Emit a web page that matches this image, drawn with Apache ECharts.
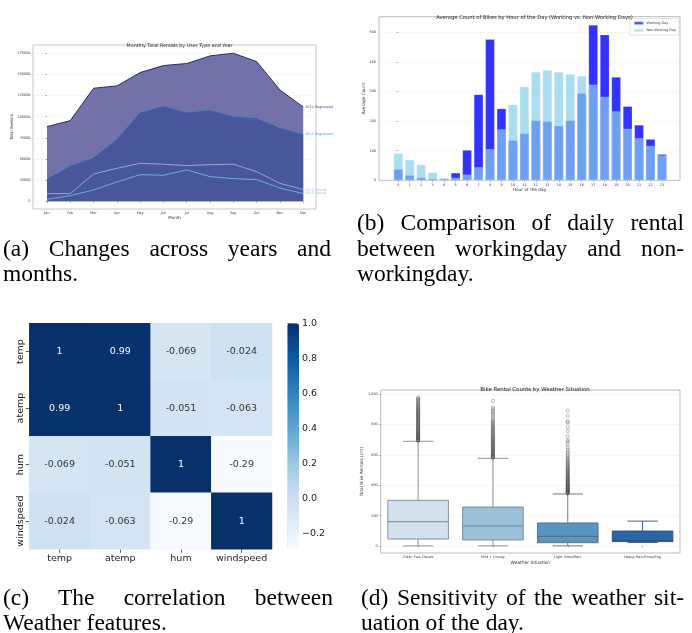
<!DOCTYPE html>
<html><head><meta charset="utf-8">
<script src="https://cdn.jsdelivr.net/npm/echarts@6/dist/echarts.min.js"></script>
<style>
html,body{margin:0;padding:0;background:#fff;}
#wrap{position:relative;width:692px;height:633px;overflow:hidden;background:#fff;}
#chart{position:absolute;left:0;top:0;width:692px;height:633px;}
.cap{position:absolute;font-family:"Liberation Serif","DejaVu Serif",serif;font-size:23.5px;line-height:25px;color:#000;white-space:nowrap;}
.j{text-align:justify;text-align-last:justify;white-space:normal;}
</style></head><body>
<div id="wrap"><div id="chart"></div>
<div class="cap j" style="left:3px;top:235.5px;width:328px">(a) Changes across years and</div>
<div class="cap" style="left:3px;top:260.5px;">months.</div>
<div class="cap j" style="left:357px;top:209.5px;width:327px">(b) Comparison of daily rental</div>
<div class="cap j" style="left:357px;top:235.5px;width:327px">between workingday and non-</div>
<div class="cap" style="left:357px;top:260.5px;">workingday.</div>
<div class="cap j" style="left:3px;top:584.5px;width:330px">(c) The correlation between</div>
<div class="cap" style="left:3px;top:609.5px;">Weather features.</div>
<div class="cap j" style="left:361px;top:584.5px;width:323px">(d) Sensitivity of the weather sit-</div>
<div class="cap" style="left:361px;top:609.5px;">uation of the day.</div>
</div>
<script>
// ---------- (a) Monthly totals ----------
const months = ['Jan','Feb','Mar','Apr','May','Jun','Jul','Aug','Sep','Oct','Nov','Dec'];
const reg2012 = [88300, 95400, 133700, 136400, 152200, 160500, 162900, 171900, 175100, 165200, 131700, 111600];
const reg2011 = [26800, 42200, 51700, 73700, 105300, 112800, 105300, 108000, 100500, 98600, 87100, 79300];
const cas2012 = [9100, 9100, 32300, 39000, 45000, 43800, 42200, 43400, 43800, 35100, 21300, 13800];
const cas2011 = [2400, 6700, 13400, 22900, 31500, 30800, 37100, 29200, 26800, 25600, 15800, 9100];
const aTicks = [0, 25000, 50000, 75000, 100000, 125000, 150000, 175000];

// ---------- (b) Hourly averages ----------
const hours = [0,1,2,3,4,5,6,7,8,9,10,11,12,13,14,15,16,17,18,19,20,21,22,23];
const workingDay = [37, 17, 9, 5, 4.5, 25, 102, 290, 477, 242, 135, 158, 202, 199, 184, 202, 294, 525, 492, 349, 250, 187, 139, 88];
const nonWorkingDay = [91, 69, 53, 26, 8, 8, 19, 44, 105, 172, 256, 316, 366, 373, 366, 359, 352, 323, 282, 233, 174, 142, 116, 84];
const bTicks = [0, 100, 200, 300, 400, 500];

// ---------- (c) Correlation ----------
const features = ['temp', 'atemp', 'hum', 'windspeed'];
const corrTemp = [1, 0.99, -0.069, -0.024];
const corrAtemp = [0.99, 1, -0.051, -0.063];
const corrHum = [-0.069, -0.051, 1, -0.29];
const corrWind = [-0.024, -0.063, -0.29, 1];
const cbTicks = [-0.2, 0.0, 0.2, 0.4, 0.6, 0.8, 1.0];

// ---------- (d) Weather boxplot ----------
const weather = ['Clear, Few Clouds', 'Mist + Cloudy', 'Light Snow/Rain', 'Heavy Rain/Snow/Fog'];
const whiskerLow = [1, 1, 1, 23];
const q1 = [46, 40, 22, 29];
const median = [160, 132, 64, 36];
const q3 = [301, 257, 152, 99];
const whiskerHigh = [690, 578, 343, 164];
const dTicks = [0, 200, 400, 600, 800, 1000];
const outClear = [693,696,699,702,705,709,712,716,719,723,727,730,734,738,742,746,750,754,758,762,767,771,775,779,784,788,792,797,801,806,810,815,819,824,828,833,837,842,846,851,855,860,864,869,873,878,883,887,892,897,901,906,911,917,922,928,934,940,947,953,960,967,972,977];
const outMist = [581,584,588,591,595,598,602,606,610,614,618,622,626,630,635,639,643,648,652,657,661,666,670,675,680,684,689,694,699,704,709,714,719,725,730,736,741,747,753,759,765,771,777,783,790,797,804,811,818,826,833,845,858,870,881,890,903,912,956];
const outLight = [346,349,352,355,358,361,364,367,370,373,377,380,383,387,390,394,397,401,405,408,412,416,420,424,428,432,436,440,445,449,453,458,462,467,471,476,481,486,491,496,501,507,512,518,524,530,536,543,550,557,564,572,580,589,600,612,622,635,651,670,688,697,723,758,785,815,821,859,892];
const outHeavy = [];

// ---------- styles ----------
const FONT = 'DejaVu Sans';
const boxFill = ['#d2e0ef', '#9bc2d9', '#5a94c1', '#2a66a6'];
const boxLine = ['#7f8690', '#738390', '#5b6a78', '#274f7f'];
const blues = ['#f7fbff','#deebf7','#c6dbef','#9ecae1','#6baed6','#4292c6','#2171b5','#08519c','#08306b'];
const HM_FONT = 9.5;

const chart = echarts.init(document.getElementById('chart'), null, {renderer: 'canvas'});

const tinyLabel = {fontFamily: FONT, fontSize: 3.4, color: '#333'};
const dashed = {show: true, lineStyle: {color: '#dcdcdc', type: [2, 2], width: 0.5}};

const corrRows = [corrTemp, corrAtemp, corrHum, corrWind];
const heatData = [];
corrRows.forEach((row, i) => row.forEach((v, j) => {
  heatData.push({value: [j, i, v], label: {color: v > 0.5 ? '#ffffff' : '#333333'}});
}));

const outliers = [];
[outClear, outMist, outLight, outHeavy].forEach((arr, k) => arr.forEach(v => outliers.push([k, v])));

const boxData = weather.map((w, k) => [k, whiskerLow[k], q1[k], median[k], q3[k], whiskerHigh[k]]);

const option = {
  animation: false,
  backgroundColor: 'transparent',
  title: [
    {text: 'Monthly Total Rentals by User Type and Year', left: 174.5, top: 38.5, textAlign: 'center',
     textStyle: {fontFamily: FONT, fontSize: 4.8, fontWeight: 'normal', color: '#222'}},
    {text: 'Average Count of Bikes by Hour of the Day (Working vs. Non-Working Days)', left: 529.5, top: 10, textAlign: 'center',
     textStyle: {fontFamily: FONT, fontSize: 5.2, fontWeight: 'normal', color: '#222'}},
    {text: 'Bike Rental Counts by Weather Situation', left: 530, top: 382.5, textAlign: 'center',
     textStyle: {fontFamily: FONT, fontSize: 5.4, fontWeight: 'normal', color: '#222'}}
  ],
  legend: {
    data: ['Working Day', 'Non-Working Day'], orient: 'vertical', right: 13, top: 18.5,
    icon: 'rect', itemWidth: 9.5, itemHeight: 3.2, itemGap: 2.2,
    padding: [2, 3, 2, 3], borderColor: '#cccccc', borderWidth: 0.5, backgroundColor: '#ffffff',
    textStyle: {fontFamily: FONT, fontSize: 3.4, color: '#333', padding: [0, 0, 0, -2]}
  },
  grid: [
    {left: 33, right: 376, top: 45, bottom: 424, show: true, borderColor: '#b8b8b8', borderWidth: 0.8, backgroundColor: 'transparent'},
    {left: 379, right: 12, top: 16.7, bottom: 452.7, show: true, borderColor: '#a8a8a8', borderWidth: 0.8, backgroundColor: 'transparent'},
    {left: 29.3, right: 420, top: 323.3, bottom: 83.7},
    {left: 287.3, width: 11.7, top: 323.3, height: 226},
    {left: 380.7, right: 12, top: 390, bottom: 80, show: true, borderColor: '#a8a8a8', borderWidth: 0.8, backgroundColor: 'transparent'}
  ],
  xAxis: [
    {gridIndex: 0, type: 'value', min: -0.6, max: 11.55, axisLine: {show: false},
     axisTick: {show: true, customValues: months.map((m, i) => i), length: 1.5, lineStyle: {color: '#555', width: 0.5}},
     axisLabel: Object.assign({customValues: months.map((m, i) => i), formatter: v => months[Math.round(v)], margin: 3}, tinyLabel),
     splitLine: {show: false},
     name: 'Month', nameLocation: 'middle', nameGap: 7, nameTextStyle: {fontFamily: FONT, fontSize: 4, color: '#333'}},
    {gridIndex: 1, type: 'value', min: -1.68, max: 24.57, axisLine: {show: false},
     axisTick: {show: true, customValues: hours, length: 1.5, lineStyle: {color: '#555', width: 0.5}},
     axisLabel: Object.assign({customValues: hours, margin: 3}, tinyLabel),
     splitLine: {show: false},
     name: 'Hour of the day', nameLocation: 'middle', nameGap: 8, nameTextStyle: {fontFamily: FONT, fontSize: 4.3, color: '#333'}},
    {gridIndex: 2, type: 'category', data: features, axisLine: {show: false},
     axisTick: {show: true, alignWithLabel: true, interval: 0, length: 3.5, lineStyle: {color: '#333', width: 0.8}},
     axisLabel: {fontFamily: FONT, fontSize: HM_FONT, color: '#222', margin: 4, interval: 0},
     splitLine: {show: false}, splitArea: {show: false}},
    {gridIndex: 3, type: 'value', show: false, min: 0, max: 1},
    {gridIndex: 4, type: 'category', data: weather, axisLine: {show: false},
     axisTick: {show: true, alignWithLabel: true, interval: 0, length: 1.5, lineStyle: {color: '#555', width: 0.5}},
     axisLabel: Object.assign({margin: 3, interval: 0}, tinyLabel),
     splitLine: {show: false},
     name: 'Weather Situation', nameLocation: 'middle', nameGap: 8, nameTextStyle: {fontFamily: FONT, fontSize: 4.4, color: '#333'}}
  ],
  yAxis: [
    {gridIndex: 0, type: 'value', min: -9100, max: 184800, axisLine: {show: false},
     axisTick: {show: true, customValues: aTicks, length: 1.5, lineStyle: {color: '#555', width: 0.5}},
     axisLabel: Object.assign({customValues: aTicks, formatter: v => String(Math.round(v)), margin: 2.5}, tinyLabel),
     splitLine: dashed,
     name: 'Total Rentals', nameLocation: 'middle', nameGap: 15, nameTextStyle: {fontFamily: FONT, fontSize: 4, color: '#333'}},
    {gridIndex: 1, type: 'value', min: 0, max: 553, axisLine: {show: false},
     axisTick: {show: true, customValues: bTicks, length: 1.5, lineStyle: {color: '#555', width: 0.5}},
     axisLabel: Object.assign({customValues: bTicks, margin: 3}, tinyLabel),
     splitLine: dashed,
     name: 'Average Count', nameLocation: 'middle', nameGap: 12, nameTextStyle: {fontFamily: FONT, fontSize: 4.3, color: '#333'}},
    {gridIndex: 2, type: 'category', data: features, inverse: true, axisLine: {show: false},
     axisTick: {show: true, alignWithLabel: true, interval: 0, length: 3.5, lineStyle: {color: '#333', width: 0.8}},
     axisLabel: {fontFamily: FONT, fontSize: HM_FONT, color: '#222', rotate: 90, margin: 4, interval: 0},
     splitLine: {show: false}, splitArea: {show: false}},
    {gridIndex: 3, type: 'value', position: 'right', min: -0.29, max: 1, axisLine: {show: false},
     axisTick: {show: true, customValues: cbTicks, length: 3.5, lineStyle: {color: '#333', width: 0.8}},
     axisLabel: {customValues: cbTicks, formatter: v => v.toFixed(1).replace('-', '\u2212'), fontFamily: FONT, fontSize: HM_FONT, color: '#222', margin: 3},
     splitLine: {show: false}},
    {gridIndex: 4, type: 'value', min: -46, max: 1028, axisLine: {show: false},
     axisTick: {show: true, customValues: dTicks, length: 1.5, lineStyle: {color: '#555', width: 0.5}},
     axisLabel: Object.assign({customValues: dTicks, margin: 3}, tinyLabel),
     splitLine: dashed,
     name: 'Total Bike Rentals (cnt)', nameLocation: 'middle', nameGap: 13, nameTextStyle: {fontFamily: FONT, fontSize: 4.3, color: '#333'}}
  ],
  visualMap: {
    type: 'continuous', min: -0.29, max: 1, seriesIndex: 6, calculable: false, hoverLink: false,
    left: 287.3, top: 323.3, itemWidth: 11.7, itemHeight: 226, padding: 0, text: ['', ''], showLabel: false,
    inRange: {color: blues}
  },
  series: [
    {name: '2012 Registered', type: 'line', xAxisIndex: 0, yAxisIndex: 0, data: reg2012.map((v, i) => [i, v]),
     symbol: 'none', lineStyle: {color: '#2b2a6b', width: 1}, itemStyle: {color: '#2b2a6b'},
     areaStyle: {color: '#7372a8', opacity: 1},
     endLabel: {show: true, formatter: '2012 Registered', fontFamily: FONT, fontSize: 3.4, color: '#3b3a8c', distance: 2}},
    {name: '2011 Registered', type: 'line', xAxisIndex: 0, yAxisIndex: 0, data: reg2011.map((v, i) => [i, v]),
     symbol: 'none', lineStyle: {color: '#4d7dbf', width: 0.9}, itemStyle: {color: '#4d7dbf'},
     areaStyle: {color: '#48569b', opacity: 1},
     endLabel: {show: true, formatter: '2011 Registered', fontFamily: FONT, fontSize: 3.4, color: '#5b8fd6', distance: 2}},
    {name: '2012 Casual', type: 'line', xAxisIndex: 0, yAxisIndex: 0, data: cas2012.map((v, i) => [i, v]),
     symbol: 'none', lineStyle: {color: '#a9a9d6', width: 0.9}, itemStyle: {color: '#a9a9d6'},
     endLabel: {show: true, formatter: '2012 Casual', fontFamily: FONT, fontSize: 3.4, color: '#b3b3e0', distance: 2}},
    {name: '2011 Casual', type: 'line', xAxisIndex: 0, yAxisIndex: 0, data: cas2011.map((v, i) => [i, v]),
     symbol: 'none', lineStyle: {color: '#72b6e8', width: 0.9}, itemStyle: {color: '#72b6e8'},
     endLabel: {show: true, formatter: '2011 Casual', fontFamily: FONT, fontSize: 3.4, color: '#87c5ea', distance: 2}},
    {name: 'Working Day', type: 'bar', xAxisIndex: 1, yAxisIndex: 1, data: workingDay.map((v, i) => [hours[i], v]),
     barWidth: 9.2, barGap: '-100%', itemStyle: {color: 'rgba(0,0,255,0.8)', borderColor: 'rgba(255,255,255,0.5)', borderWidth: 0.4}},
    {name: 'Non-Working Day', type: 'bar', xAxisIndex: 1, yAxisIndex: 1, data: nonWorkingDay.map((v, i) => [hours[i], v]),
     barWidth: 9.2, barGap: '-100%', itemStyle: {color: 'rgba(135,206,235,0.7)', borderColor: 'rgba(255,255,255,0.5)', borderWidth: 0.4}},
    {name: 'corr', type: 'heatmap', xAxisIndex: 2, yAxisIndex: 2, data: heatData,
     label: {show: true, formatter: p => String(p.value[2]), fontFamily: FONT, fontSize: HM_FONT},
     itemStyle: {borderWidth: 0}, emphasis: {disabled: true}},
    {name: 'box', type: 'custom', xAxisIndex: 4, yAxisIndex: 4, data: boxData,
     renderItem: function (params, api) {
       const k = api.value(0);
       const lo = api.coord([k, api.value(1)]);
       const b1 = api.coord([k, api.value(2)]);
       const md = api.coord([k, api.value(3)]);
       const b3 = api.coord([k, api.value(4)]);
       const hi = api.coord([k, api.value(5)]);
       const w = api.size([1, 0])[0] * 0.81;
       const cx = lo[0];
       const ls = {stroke: boxLine[k], lineWidth: 0.9, fill: null};
       return {type: 'group', children: [
         {type: 'line', shape: {x1: cx, y1: lo[1], x2: cx, y2: b1[1]}, style: ls},
         {type: 'line', shape: {x1: cx, y1: b3[1], x2: cx, y2: hi[1]}, style: ls},
         {type: 'line', shape: {x1: cx - w / 4, y1: lo[1], x2: cx + w / 4, y2: lo[1]}, style: ls},
         {type: 'line', shape: {x1: cx - w / 4, y1: hi[1], x2: cx + w / 4, y2: hi[1]}, style: ls},
         {type: 'rect', shape: {x: cx - w / 2, y: b3[1], width: w, height: b1[1] - b3[1]},
          style: {fill: boxFill[k], stroke: boxLine[k], lineWidth: 0.9}},
         {type: 'line', shape: {x1: cx - w / 2, y1: md[1], x2: cx + w / 2, y2: md[1]}, style: {stroke: boxLine[k], lineWidth: 1}}
       ]};
     }},
    {name: 'outliers', type: 'scatter', xAxisIndex: 4, yAxisIndex: 4, data: outliers,
     symbol: 'circle', symbolSize: 3.2, itemStyle: {color: 'rgba(255,255,255,0)', borderColor: 'rgba(60,60,60,0.85)', borderWidth: 0.5}}
  ]
};
chart.setOption(option);
</script>
</body></html>
